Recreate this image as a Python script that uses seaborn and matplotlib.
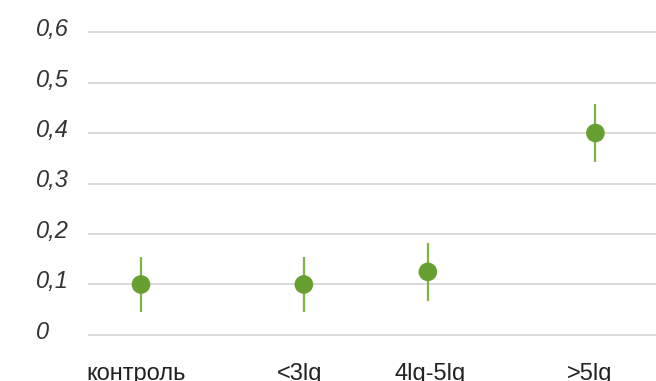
import matplotlib
matplotlib.use("Agg")
from matplotlib import pyplot as plt
from matplotlib.transforms import ScaledTranslation
import seaborn as sns
import pandas as pd

groups = ["контроль", "<3lg", "4lg-5lg", ">5lg"]
x_pos = [0.56, 2.28, 3.59, 5.36]
values = [0.10, 0.10, 0.125, 0.40]
errors = [0.055, 0.055, 0.057, 0.057]
y_ticks = [0, 0.1, 0.2, 0.3, 0.4, 0.5, 0.6]
y_labels = ["0", "0,1", "0,2", "0,3", "0,4", "0,5", "0,6"]

df = pd.DataFrame({"group": groups, "x": x_pos, "value": values, "err": errors})

sns.set_style("white")
plt.rcParams["font.family"] = ["Liberation Sans", "DejaVu Sans"]

fig = plt.figure(figsize=(6.56, 3.81), dpi=100)
ax = fig.add_axes([88 / 656, 1 - 337.5 / 381, 1 - 88 / 656, 308 / 381])

for y in y_ticks:
    ax.axhline(y, color="#d9d9d9", lw=1.4, zorder=0)

ax.errorbar(df["x"], df["value"], yerr=df["err"], fmt="none",
            ecolor="#7cb342", elinewidth=1.6, capsize=0, zorder=2)
sns.scatterplot(data=df, x="x", y="value", ax=ax, color="#689f31",
                s=180, edgecolor="none", zorder=3, legend=False)

ax.set_xlim(0, 6)
ax.set_ylim(-0.005, 0.605)
ax.set_yticks(y_ticks)
ax.set_yticklabels(y_labels, fontsize=17, style="italic", color="#333333", ha="left")
ax.set_xticks(x_pos)
ax.set_xticklabels(groups, fontsize=17, color="#222222")
ax.tick_params(axis="y", length=0, pad=37.4)
ax.tick_params(axis="x", length=0, pad=18.5)
for lab in ax.get_yticklabels():
    lab.set_transform(lab.get_transform() + ScaledTranslation(0, 5 / 100, fig.dpi_scale_trans))
for lab, dx in zip(ax.get_xticklabels(), [-5, -4, 2, -6]):
    lab.set_transform(lab.get_transform() + ScaledTranslation(dx / 100, 0, fig.dpi_scale_trans))
ax.set_xlabel("")
ax.set_ylabel("")
sns.despine(ax=ax, left=True, bottom=True)

fig.savefig("out.png", dpi=100)
